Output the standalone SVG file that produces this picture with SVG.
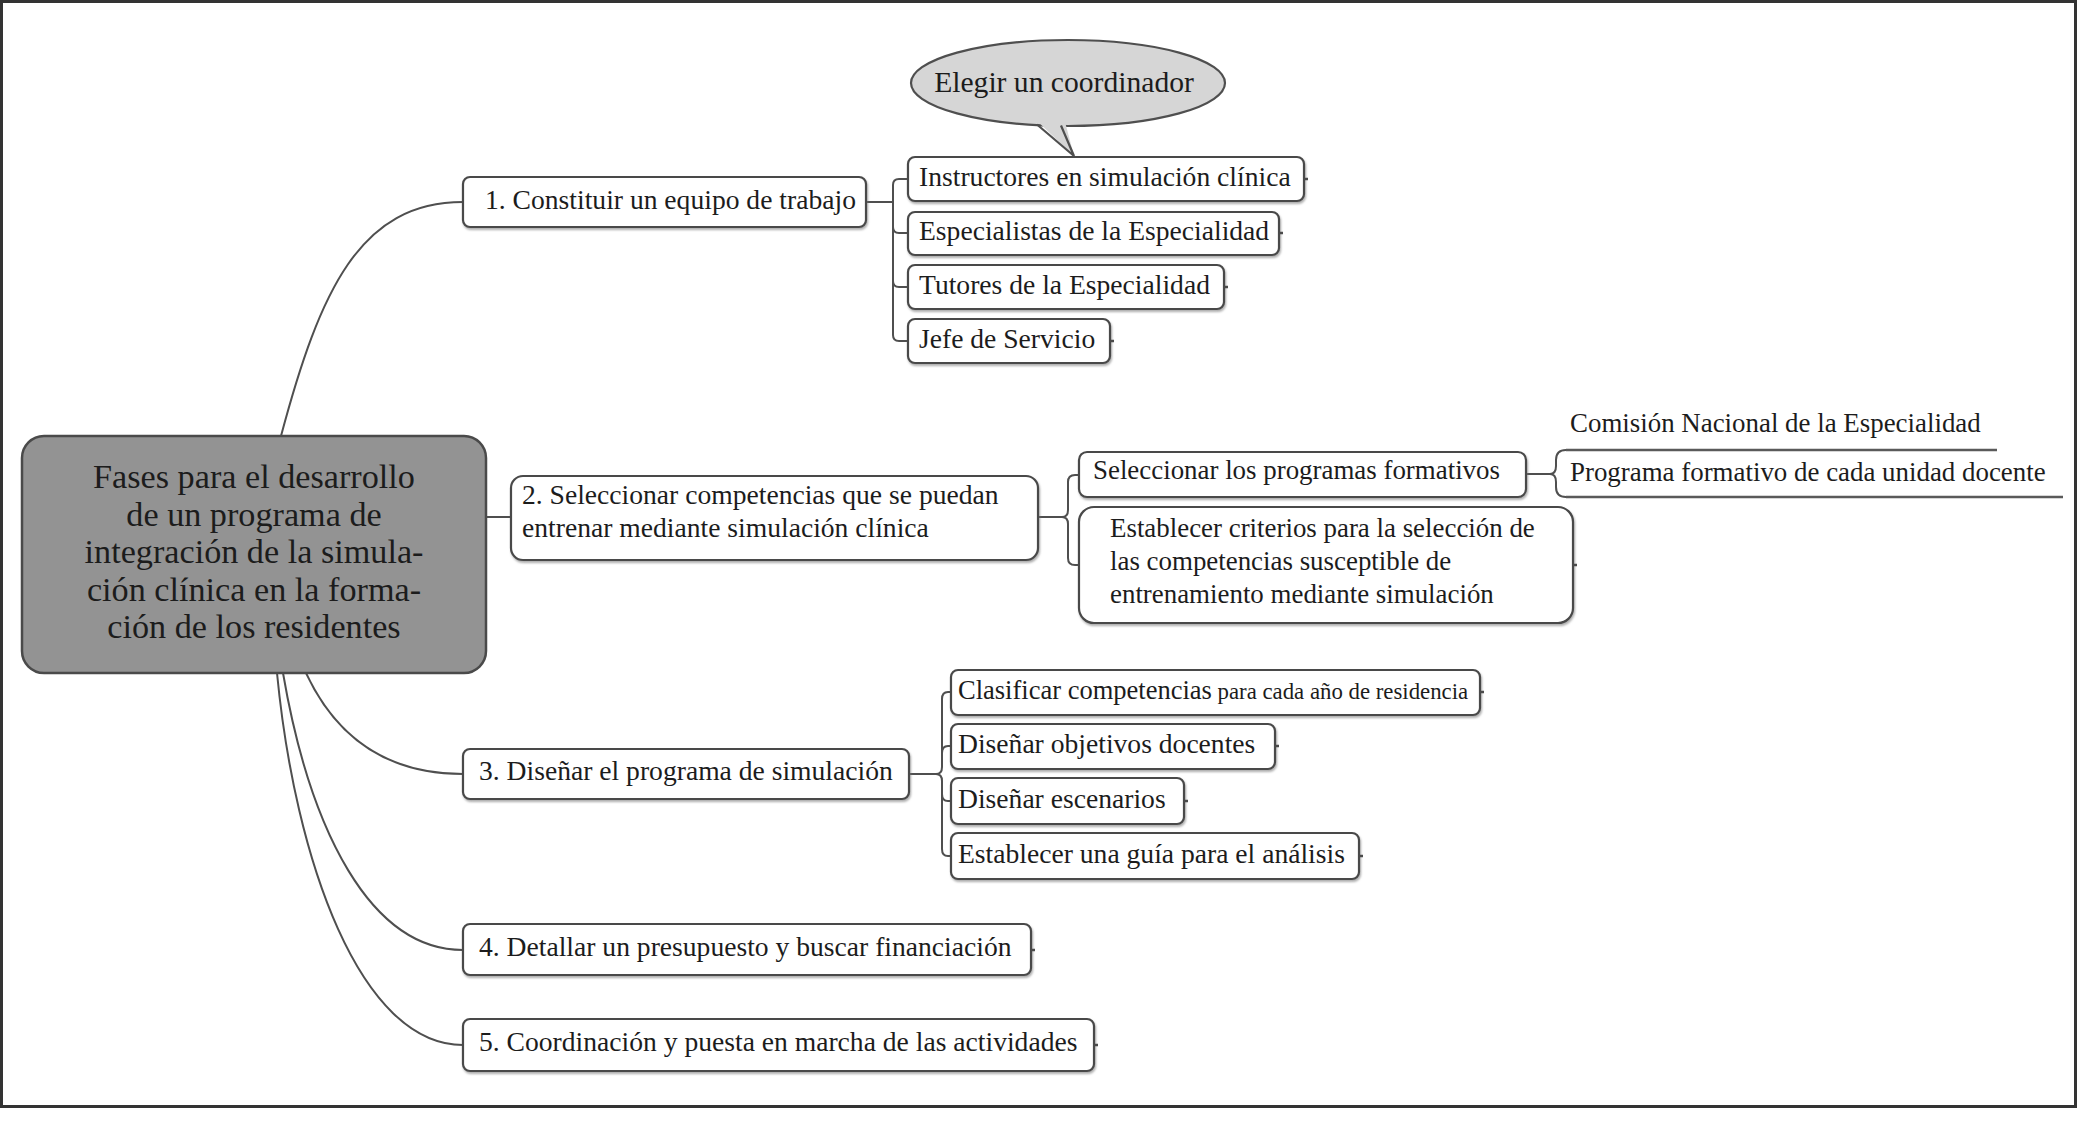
<svg xmlns="http://www.w3.org/2000/svg" width="2079" height="1134" viewBox="0 0 2079 1134">
<defs>
<filter id="sh" x="-5%" y="-20%" width="110%" height="150%"><feDropShadow dx="1" dy="2" stdDeviation="1" flood-color="#777" flood-opacity="0.6"/></filter>
</defs>
<style>
text{font-family:"Liberation Serif","Times New Roman",serif;fill:#1c1c1c}
.t{font-size:27.6px}
.s{font-size:26.9px}
.c{font-size:34.2px;text-anchor:middle}
.box{fill:#fff;stroke:#4a4a4a;stroke-width:2.2;filter:url(#sh)}
.tick{stroke:#4a4a4a;stroke-width:2.5}
.con{fill:none;stroke:#4f4f4f;stroke-width:2}
.ul{fill:none;stroke:#5a5a5a;stroke-width:2.6}
</style>
<rect x="1.5" y="1.5" width="2074" height="1105" fill="#fff" stroke="#333" stroke-width="3"/>
<g id="connectors">
<path class="con" d="M281 436 C320 290 360 202 463 202"/>
<path class="con" d="M486 517 H511"/>
<path class="con" d="M306 673 C335 735 385 774 463 774"/>
<path class="con" d="M283 673 C310 830 370 950 463 950"/>
<path class="con" d="M277 673 C295 860 360 1045 463 1045"/>
<path class="con" d="M866 202 H893 M893 202 V185 Q893 179 899 179 H908 M893 202 V227 Q893 233 899 233 H908 M893 202 V281 Q893 287 899 287 H908 M893 202 V335 Q893 341 899 341 H908"/>
<path class="con" d="M1038 517 H1062 M1062 517 Q1068 517 1068 510 V482 Q1068 475 1075 475 H1079 M1062 517 Q1068 517 1068 524 V558 Q1068 565 1075 565 H1079"/>
<path class="con" d="M909 774 H936 M936 774 Q942 774 942 767 V699 Q942 692 948 692 H951 M936 774 Q942 774 942 767 V753 Q942 746 948 746 H951 M936 774 Q942 774 942 781 V794 Q942 801 948 801 H951 M936 774 Q942 774 942 781 V849 Q942 856 948 856 H951"/>
<path class="con" d="M1526 474 H1550 M1550 474 Q1556 474 1556 466 V460 Q1556 450 1566 450 M1550 474 Q1556 474 1556 482 V487 Q1556 497 1566 497"/>
</g>
<g id="center">
<rect x="22" y="436" width="464" height="237" rx="22" fill="#939393" stroke="#4a4a4a" stroke-width="2.5"/>
<text class="c" x="254" y="488">Fases para el desarrollo</text>
<text class="c" x="254" y="525.5">de un programa de</text>
<text class="c" x="254" y="563">integración de la simula-</text>
<text class="c" x="254" y="600.5">ción clínica en la forma-</text>
<text class="c" x="254" y="638">ción de los residentes</text>
</g>
<g id="n1">
<rect class="box" x="463" y="177" width="403" height="50" rx="7"/>
<text class="t" x="485" y="209">1. Constituir un equipo de trabajo</text>
</g>
<g id="n1a">
<rect class="box" x="908" y="157" width="396" height="44" rx="7"/>
<line class="tick" x1="1304" y1="179" x2="1308" y2="179"/>
<text class="t" x="919" y="186">Instructores en simulación clínica</text>
</g>
<g id="callout">
<ellipse cx="1068" cy="83" rx="157" ry="43" fill="#d6d6d6" stroke="#4f4f4f" stroke-width="2.2"/>
<polygon points="1034,118 1074,156 1064,118" fill="#d6d6d6"/>
<path d="M1037 124.5 L1074 156 L1061 125.5" fill="none" stroke="#4f4f4f" stroke-width="2.2"/>
<text x="1064" y="92" style="font-size:29.6px;text-anchor:middle">Elegir un coordinador</text>
</g>
<g id="n1b">
<rect class="box" x="908" y="212" width="371" height="43" rx="7"/>
<line class="tick" x1="1279" y1="233" x2="1283" y2="233"/>
<text class="t" x="919" y="240">Especialistas de la Especialidad</text>
</g>
<g id="n1c">
<rect class="box" x="908" y="265" width="316" height="44" rx="7"/>
<line class="tick" x1="1224" y1="287" x2="1228" y2="287"/>
<text class="t" x="919" y="294">Tutores de la Especialidad</text>
</g>
<g id="n1d">
<rect class="box" x="908" y="319" width="202" height="44" rx="7"/>
<line class="tick" x1="1110" y1="341" x2="1114" y2="341"/>
<text class="t" x="919" y="348">Jefe de Servicio</text>
</g>
<g id="n2">
<rect class="box" x="511" y="476" width="527" height="84" rx="12"/>
<text class="t" x="522" y="504">2. Seleccionar competencias que se puedan</text>
<text class="t" x="522" y="537">entrenar mediante simulación clínica</text>
</g>
<g id="n2a">
<rect class="box" x="1079" y="452" width="447" height="45" rx="8"/>
<text class="s" x="1093" y="479">Seleccionar los programas formativos</text>
</g>
<g id="n2a1">
<path class="ul" d="M1566 450 H1997"/>
<text class="s" x="1570" y="432">Comisión Nacional de la Especialidad</text>
</g>
<g id="n2a2">
<path class="ul" d="M1566 497 H2063"/>
<text class="s" x="1570" y="481">Programa formativo de cada unidad docente</text>
</g>
<g id="n2b">
<rect class="box" x="1079" y="507" width="494" height="116" rx="15"/>
<line class="tick" x1="1573" y1="565" x2="1577" y2="565"/>
<text class="s" x="1110" y="537">Establecer criterios para la selección de</text>
<text class="s" x="1110" y="570">las competencias susceptible de</text>
<text class="s" x="1110" y="603">entrenamiento mediante simulación</text>
</g>
<g id="n3">
<rect class="box" x="463" y="749" width="446" height="50" rx="7"/>
<text class="t" x="479" y="780">3. Diseñar el programa de simulación</text>
</g>
<g id="n3a">
<rect class="box" x="951" y="670" width="529" height="45" rx="7"/>
<line class="tick" x1="1480" y1="692" x2="1484" y2="692"/>
<text x="958" y="699" style="font-size:26.5px">Clasificar competencias<tspan style="font-size:22.8px"> para cada año de residencia</tspan></text>
</g>
<g id="n3b">
<rect class="box" x="951" y="724" width="324" height="45" rx="7"/>
<line class="tick" x1="1275" y1="746" x2="1279" y2="746"/>
<text class="t" x="958" y="753">Diseñar objetivos docentes</text>
</g>
<g id="n3c">
<rect class="box" x="951" y="778" width="233" height="46" rx="7"/>
<line class="tick" x1="1184" y1="801" x2="1188" y2="801"/>
<text class="t" x="958" y="808">Diseñar escenarios</text>
</g>
<g id="n3d">
<rect class="box" x="951" y="833" width="408" height="46" rx="7"/>
<line class="tick" x1="1359" y1="856" x2="1363" y2="856"/>
<text class="t" x="958" y="863">Establecer una guía para el análisis</text>
</g>
<g id="n4">
<rect class="box" x="463" y="924" width="568" height="51" rx="7"/>
<line class="tick" x1="1031" y1="950" x2="1035" y2="950"/>
<text class="t" x="479" y="956">4. Detallar un presupuesto y buscar financiación</text>
</g>
<g id="n5">
<rect class="box" x="463" y="1019" width="631" height="52" rx="7"/>
<line class="tick" x1="1094" y1="1045" x2="1098" y2="1045"/>
<text class="t" x="479" y="1051">5. Coordinación y puesta en marcha de las actividades</text>
</g>
</svg>
